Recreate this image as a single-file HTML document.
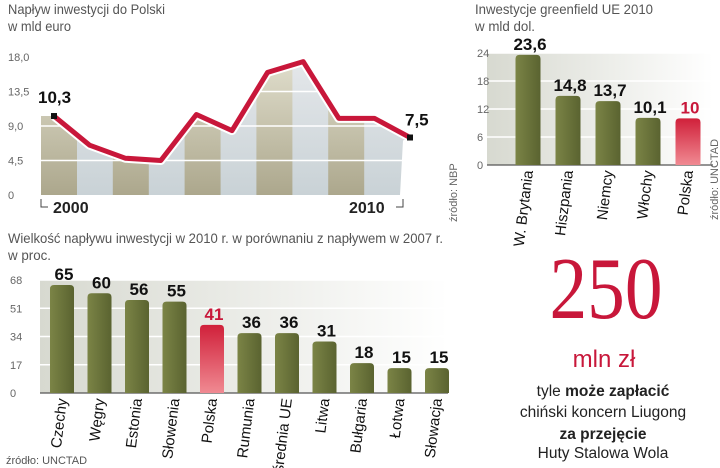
<!DOCTYPE html>
<html><head><meta charset="utf-8"><style>
body{margin:0;background:#fff;width:720px;height:468px;overflow:hidden}
svg{display:block;font-family:"Liberation Sans",sans-serif}
</style></head><body>
<svg id="s" width="720" height="468" viewBox="0 0 720 468">
<defs>
<linearGradient id="bg" x1="0" y1="0" x2="0" y2="1"><stop offset="0" stop-color="#e4e7ea"/><stop offset="1" stop-color="#c9d2d6"/></linearGradient>
<linearGradient id="ol" x1="0" y1="0" x2="0" y2="1"><stop offset="0" stop-color="#e8e6d6"/><stop offset="1" stop-color="#aaa58a"/></linearGradient>
<linearGradient id="bar" x1="0" y1="0" x2="1" y2="0"><stop offset="0" stop-color="#7b8446"/><stop offset="1" stop-color="#5a6330"/></linearGradient>
<linearGradient id="red" x1="0" y1="0" x2="0" y2="1"><stop offset="0" stop-color="#d0203a"/><stop offset="1" stop-color="#f08a92"/></linearGradient>
<linearGradient id="pbg" x1="0" y1="0" x2="1" y2="0"><stop offset="0" stop-color="#d7d9d0"/><stop offset="1" stop-color="#ffffff"/></linearGradient>
<clipPath id="areaClip"><path id="areaPath" d=""/></clipPath>
</defs>

<text x="8" y="14" font-size="14" fill="#555" textLength="157" lengthAdjust="spacingAndGlyphs">Napływ inwestycji do Polski</text>
<text x="8" y="31" font-size="14" fill="#555" textLength="63" lengthAdjust="spacingAndGlyphs">w mld euro</text>
<g id="lc"></g>

<text x="475" y="14" font-size="14" fill="#555" textLength="178" lengthAdjust="spacingAndGlyphs">Inwestycje greenfield UE 2010</text>
<text x="475" y="31" font-size="14" fill="#555" textLength="60" lengthAdjust="spacingAndGlyphs">w mld dol.</text>
<g id="gc"></g>
<text transform="translate(457,222) rotate(-90)" font-size="11" fill="#666">źródło: NBP</text>
<text transform="translate(718,220) rotate(-90)" font-size="11" fill="#666">źródło: UNCTAD</text>

<text x="8" y="243" font-size="14" fill="#555" textLength="435" lengthAdjust="spacingAndGlyphs">Wielkość napływu inwestycji w 2010 r. w porównaniu z napływem w 2007 r.</text>
<text x="8" y="260" font-size="14" fill="#555" textLength="43" lengthAdjust="spacingAndGlyphs">w proc.</text>
<g id="cc"></g>
<text x="6" y="464" font-size="11" fill="#555">źródło: UNCTAD</text>

<text x="606" y="318" font-size="88" text-anchor="middle" fill="#c8173a" font-family="Liberation Serif,serif" textLength="113" lengthAdjust="spacingAndGlyphs">250</text>
<text x="604" y="367" font-size="24" text-anchor="middle" fill="#c8173a">mln zł</text>
<g font-size="15.5" text-anchor="middle" fill="#222">
<text x="603" y="396">tyle <tspan font-weight="bold">może zapłacić</tspan></text>
<text x="603" y="417">chiński koncern Liugong</text>
<text x="603" y="439" font-weight="bold">za przejęcie</text>
<text x="603" y="458">Huty Stalowa Wola</text>
</g>
</svg>
<script>
// ---- line chart data
const years = [2000,2001,2002,2003,2004,2005,2006,2007,2008,2009,2010];
const inflow = [10.3,6.5,4.8,4.5,10.5,8.4,16.0,17.4,10.0,10.0,7.5];
const lcTicks = [0,4.5,9.0,13.5,18.0];
const lcTickLabels = ["0","4,5","9,0","13,5","18,0"];
// ---- greenfield data
const gfCountries = ["W. Brytania","Hiszpania","Niemcy","Włochy","Polska"];
const gfValues = [23.6,14.8,13.7,10.1,10];
const gfLabels = ["23,6","14,8","13,7","10,1","10"];
const gfTicks = [0,6,12,18,24];
// ---- comparison data
const cmpCountries = ["Czechy","Węgry","Estonia","Słowenia","Polska","Rumunia","średnia UE","Litwa","Bułgaria","Łotwa","Słowacja"];
const cmpValues = [65,60,56,55,41,36,36,31,18,15,15];
const cmpTicks = [0,17,34,51,68];

const NS="http://www.w3.org/2000/svg";
function mk(parent,tag,attrs,text){const e=document.createElementNS(NS,tag);for(const k in attrs)e.setAttribute(k,attrs[k]);if(text!==undefined)e.textContent=text;parent.appendChild(e);return e;}

// line chart
(function(){
 const g=document.getElementById('lc');
 const x0=54,x1=410,y0=195,y1=57,vmax=18;
 const X=i=>x0+(x1-x0)*i/(years.length-1);
 const Y=v=>y0-(y0-y1)*v/vmax;
 let d=`M41 ${y0} L41 ${Y(inflow[0])} `;
 inflow.forEach((v,i)=>d+=`L${X(i)} ${Y(v)} `);
 d+=`L403 ${Y(inflow[inflow.length-1])+3} L400 ${y0} Z`;
 document.getElementById('areaPath').setAttribute('d',d);
 const area=mk(g,'path',{d:d,fill:'url(#bg)'});
 
 
 const cg=mk(g,'g',{'clip-path':'url(#areaClip)'});
 for(let k=0;k<5;k++){const r=mk(cg,'rect',{x:41+k*71.8,y:40,width:36,height:160,fill:'url(#ol)'});
  
  }
 lcTicks.forEach((t,i)=>{
  if(i>0&&i<4){const l=mk(g,'line',{x1:41,x2:405,y1:Y(t),y2:Y(t),stroke:'#fff','stroke-width':1.5});
   
   }
  const tx=mk(g,'text',{x:8,y:Y(t)+4,'font-size':11,fill:'#666'},lcTickLabels[i]);
  
  
 });
 const pts=inflow.map((v,i)=>X(i)+','+Y(v)).join(' ');
 mk(g,'polyline',{points:pts,fill:'none',stroke:'#fff','stroke-width':9,'stroke-linejoin':'round'});
 const ln=mk(g,'polyline',{points:pts,fill:'none',stroke:'#c8173a','stroke-width':5,'stroke-linejoin':'round'});
 
 
 [0,inflow.length-1].forEach(i=>{
  const p=mk(g,'rect',{x:X(i)-3,y:Y(inflow[i])-3,width:6,height:6,fill:'#111'});
  
  
 });
 const l1=mk(g,'text',{x:38,y:Y(inflow[0])-13,'font-size':17,'font-weight':'bold',fill:'#111'},'10,3');
 
 
 const l2=mk(g,'text',{x:405,y:Y(inflow[10])-12,'font-size':17,'font-weight':'bold',fill:'#111'},'7,5');
 
 
 mk(g,'path',{d:'M41 199 V207 H48 M403 199 V207 H396',fill:'none',stroke:'#444','stroke-width':1});
 const a=mk(g,'text',{x:53,y:213,'font-size':16,'font-weight':'bold',fill:'#222'},'2000');
 
 
 const b=mk(g,'text',{x:349,y:213,'font-size':16,'font-weight':'bold',fill:'#222'},'2010');
 
 
})();

function barChart(gid,cats,vals,labels,ticks,o){
 const g=document.getElementById(gid);
 const Y=v=>o.y0-(o.y0-o.y1)*v/ticks[ticks.length-1];
 mk(g,'rect',{x:o.ax0,y:o.y1,width:o.ax1-o.ax0,height:o.y0-o.y1,fill:'url(#pbg)'});
 ticks.forEach(t=>{
  if(t>0){const l=mk(g,'line',{x1:o.ax0,x2:o.ax1,y1:Y(t),y2:Y(t),stroke:'#fff','stroke-width':1.5});
   
   }
  const tx=mk(g,'text',{x:o.tx,y:Y(t)+4,'font-size':11,fill:'#666'},String(t));
  
  
 });
 const ax=mk(g,'line',{x1:o.ax0,x2:o.ax1,y1:o.y0,y2:o.y0,stroke:'#555','stroke-width':1.2});
 
 
 cats.forEach((c,i)=>{
  const cx=o.bx0+i*o.step, v=vals[i], red=c==='Polska';
  const y=Y(v);
  const r=mk(g,'path',{d:`M${cx-o.w/2} ${o.y0} V${y+4} Q${cx-o.w/2} ${y} ${cx-o.w/2+4} ${y} H${cx+o.w/2-4} Q${cx+o.w/2} ${y} ${cx+o.w/2} ${y+4} V${o.y0} Z`,fill:red?'url(#red)':'url(#bar)'});
  
  
  const lb=mk(g,'text',{x:cx+2,y:y-5,'font-size':o.fs,'font-weight':'bold','text-anchor':'middle',fill:red?'#c8173a':'#111'},labels?labels[i]:String(v));
  
  
  const cl=mk(g,'text',{transform:`translate(${cx+5},${o.y0+6}) rotate(-83)`,'font-size':o.cfs,'text-anchor':'end',fill:'#111'},c);
  
  
 });
}
barChart('gc',gfCountries,gfValues,gfLabels,gfTicks,{y0:165,y1:53,ax0:487,ax1:713,tx:477,bx0:528,step:40,w:25,fs:17,cfs:15});
barChart('cc',cmpCountries,cmpValues,null,cmpTicks,{y0:393,y1:280,ax0:40,ax1:448,tx:10,bx0:62,step:37.5,w:24,fs:17,cfs:15});
</script>
</body></html>
